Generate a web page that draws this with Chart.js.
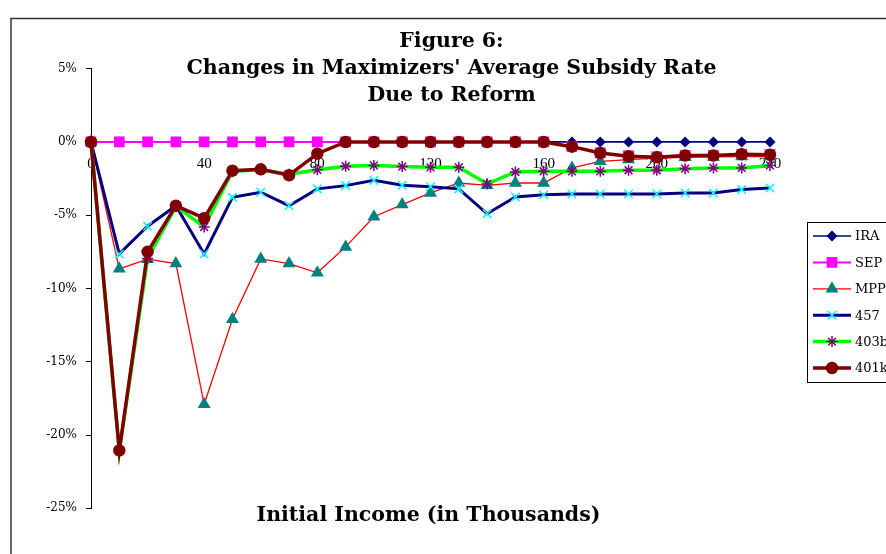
<!DOCTYPE html>
<html>
<head>
<meta charset="utf-8">
<title>Figure 6</title>
<script src="https://cdn.jsdelivr.net/npm/chart.js@4.4.1/dist/chart.umd.min.js"></script>
<style>
  html, body { margin: 0; padding: 0; background: #fff; overflow: hidden; }
  #wrap { position: relative; width: 886px; height: 554px; overflow: hidden; }
  canvas { position: absolute; left: 0; top: 0; }
  .title { position: absolute; left: 0; text-align: center; font-family: 'DejaVu Serif', serif; font-weight: bold; font-size: 20.5px; color: #000; }
  #mainTitle { top: 27px; width: 903px; line-height: 27px; }
  #xTitle { top: 501px; width: 857px; line-height: 26px; }
</style>
</head>
<body>
<div id="wrap">
  <canvas id="chart" width="886" height="554"></canvas>
  <div class="title" id="mainTitle">Figure 6:<br>Changes in Maximizers' Average Subsidy Rate<br>Due to Reform</div>
  <div class="title" id="xTitle">Initial Income (in Thousands)</div>
</div>
<script>
// initial income, thousands
const incomes = [0, 10, 20, 30, 40, 50, 60, 70, 80, 90, 100, 110, 120, 130, 140, 150, 160, 170, 180, 190, 200, 210, 220, 230, 240];

// change in average subsidy rate, percent
const ira  = [0, 0, 0, 0, 0, 0, 0, 0, 0, 0, 0, 0, 0, 0, 0, 0, 0, 0, 0, 0, 0, 0, 0, 0, 0];
const sep  = [0, 0, 0, 0, 0, 0, 0, 0, 0, 0, 0, 0, 0, 0, 0, 0, 0, -0.3, -0.75, -0.95, -1.02, -0.92, -0.92, -0.85, -0.87];
const mpp  = [0, -8.66, -8.0, -8.3, -17.9, -12.1, -7.98, -8.3, -8.93, -7.16, -5.1, -4.27, -3.48, -2.8, -2.96, -2.8, -2.8, -1.77, -1.32, -1.2, -1.1, -1.05, -1.02, -1.0, -1.0];
const s457 = [0, -7.64, -5.75, -4.35, -7.64, -3.78, -3.43, -4.35, -3.2, -2.98, -2.62, -2.96, -3.05, -3.2, -4.9, -3.75, -3.6, -3.55, -3.55, -3.55, -3.55, -3.48, -3.48, -3.25, -3.14];
const s403b = [0, -21.1, -7.95, -4.4, -5.8, -2.0, -1.9, -2.2, -1.9, -1.66, -1.6, -1.68, -1.73, -1.73, -2.86, -2.05, -2.0, -2.0, -2.0, -1.93, -1.93, -1.82, -1.77, -1.77, -1.6];
const s401k = [0, -21.05, -7.5, -4.35, -5.2, -1.96, -1.87, -2.27, -0.8, 0, 0, 0, 0, 0, 0, 0, 0, -0.32, -0.75, -0.98, -1.05, -0.93, -0.93, -0.83, -0.87];

const xTicks = [0, 40, 80, 120, 160, 200, 240];
const yTicks = [5, 0, -5, -10, -15, -20, -25];

const pts = vals => vals.map((v, i) => ({ x: incomes[i], y: v }));

const series = (label, vals, line, lineW, marker, style, radius, order) => ({
  label,
  data: pts(vals),
  borderColor: line,
  borderWidth: lineW,
  pointStyle: style,
  pointRadius: radius,
  pointBackgroundColor: marker,
  pointBorderColor: marker,
  pointBorderWidth: 1.5,
  tension: 0,
  clip: false,
  order
});

const datasets = [
  series('IRA',  ira,   '#000080', 1.5, '#000080', 'rectRot', 4.5, 5),
  series('SEP',  sep,   '#FF00FF', 2,   '#FF00FF', 'rect', 6.5, 4),
  series('MPP',  mpp,   '#FF0000', 1.3, '#008080', 'triangle', 6, 3),
  series('457',  s457,  '#000080', 3,   '#00FFFF', 'crossRot', 6, 2),
  series('403b', s403b, '#00FF00', 3.5, '#800080', 'star', 5.5, 1),
  series('401k', s401k, '#800000', 3.5, '#800000', 'circle', 5.5, 0)
];

const fallbackPoint = (ctx, o, x, y) => {
  ctx.beginPath(); ctx.arc(x, y, o.radius, 0, Math.PI * 2); ctx.fill(); ctx.stroke();
};
const drawPoint = (Chart.helpers && Chart.helpers.drawPoint) || fallbackPoint;

// frame round the whole picture plus the boxed legend on the right
const boxLegend = {
  id: 'boxLegend',
  afterDraw(chart) {
    const ctx = chart.ctx;
    ctx.save();
    ctx.strokeStyle = '#333';
    ctx.lineWidth = 1.5;
    ctx.strokeRect(11, 18.5, 1000, 1000);

    ctx.strokeStyle = '#000';
    ctx.lineWidth = 1;
    ctx.strokeRect(807.5, 222.5, 120, 160);

    chart.data.datasets.forEach((ds, i) => {
      const y = 236 + i * 26.4;
      ctx.strokeStyle = ds.borderColor;
      ctx.lineWidth = ds.borderWidth;
      ctx.beginPath();
      ctx.moveTo(813, y);
      ctx.lineTo(851, y);
      ctx.stroke();

      ctx.fillStyle = ds.pointBackgroundColor;
      ctx.strokeStyle = ds.pointBorderColor;
      ctx.lineWidth = ds.pointBorderWidth;
      drawPoint(ctx, { pointStyle: ds.pointStyle, radius: ds.pointRadius, borderWidth: ds.pointBorderWidth, rotation: 0 }, 832, y);

      ctx.fillStyle = '#000';
      ctx.font = '13px "DejaVu Serif"';
      ctx.textBaseline = 'middle';
      ctx.textAlign = 'left';
      ctx.fillText(ds.label, 855, y + 1);
    });
    ctx.restore();
  }
};

new Chart(document.getElementById('chart'), {
  type: 'line',
  data: { datasets },
  options: {
    responsive: false,
    animation: false,
    devicePixelRatio: 1,
    layout: { padding: { left: 31, top: 68.7, right: 116, bottom: 45.7 } },
    plugins: { legend: { display: false }, tooltip: { enabled: false } },
    scales: {
      x: {
        type: 'linear',
        position: { y: 0 },
        min: Math.min(...xTicks),
        max: Math.max(...xTicks),
        afterBuildTicks: s => { s.ticks = xTicks.map(v => ({ value: v })); },
        afterFit: s => { s.height = 0; },
        grid: { display: true, drawOnChartArea: false, drawTicks: false },
        border: { display: true, color: '#000', width: 1 },
        ticks: { color: '#000', padding: 13, maxRotation: 0, font: { family: 'Liberation Serif', size: 15 } }
      },
      y: {
        type: 'linear',
        min: Math.min(...yTicks),
        max: Math.max(...yTicks),
        afterBuildTicks: s => { s.ticks = yTicks.map(v => ({ value: v })); },
        afterFit: s => { s.width = 60; },
        grid: { display: true, drawOnChartArea: false, drawTicks: true, tickLength: 5, color: '#000' },
        border: { display: true, color: '#000', width: 1 },
        ticks: { color: '#000', padding: 9, font: { family: 'DejaVu Serif', size: 12 }, callback: v => v + '%' }
      }
    }
  },
  plugins: [boxLegend]
});
</script>
</body>
</html>
